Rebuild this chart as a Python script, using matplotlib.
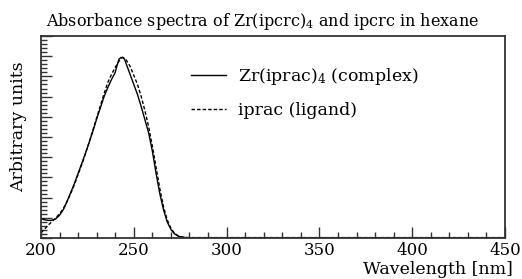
import numpy as np
import matplotlib
matplotlib.use('Agg')
import matplotlib.pyplot as plt
from matplotlib.ticker import MultipleLocator

plt.rcParams['font.family'] = 'DejaVu Serif'
plt.rcParams['mathtext.fontset'] = 'dejavuserif'

# Zr(iprac)4 complex
wl_complex = [200, 202, 204, 205, 206, 208, 210, 212, 214, 216, 218, 220, 222, 224, 226,
              228, 230, 232, 234, 236, 238, 240, 241, 242, 243, 244, 245, 246, 247, 248,
              250, 252, 254, 256, 258, 260, 262, 264, 266, 268, 270, 272, 274, 276, 278,
              280, 300, 350, 400, 450]
abs_complex = [0.096, 0.090, 0.087, 0.087, 0.088, 0.095, 0.113, 0.140, 0.180, 0.225, 0.270,
               0.320, 0.370, 0.420, 0.475, 0.530, 0.590, 0.645, 0.700, 0.745, 0.785, 0.820,
               0.855, 0.885, 0.893, 0.895, 0.885, 0.860, 0.835, 0.810, 0.760, 0.710, 0.650,
               0.585, 0.520, 0.430, 0.320, 0.220, 0.140, 0.080, 0.042, 0.020, 0.009, 0.004,
               0.002, 0.001, 0.001, 0.001, 0.001, 0.001]

# iprac ligand
wl_ligand = [200, 202, 204, 206, 208, 210, 212, 214, 216, 218, 220, 222, 224, 226, 228,
             230, 232, 234, 236, 238, 240, 242, 243, 244, 245, 246, 248, 250, 252, 254,
             256, 258, 260, 262, 264, 266, 268, 270, 272, 274, 276, 278, 280, 300, 350,
             400, 450]
abs_ligand = [0.026, 0.045, 0.065, 0.082, 0.100, 0.120, 0.145, 0.180, 0.220, 0.265, 0.315,
              0.365, 0.420, 0.475, 0.535, 0.595, 0.655, 0.715, 0.770, 0.810, 0.845, 0.875,
              0.888, 0.893, 0.890, 0.880, 0.850, 0.805, 0.760, 0.700, 0.630, 0.550, 0.455,
              0.350, 0.245, 0.155, 0.090, 0.048, 0.022, 0.010, 0.005, 0.003, 0.002, 0.002,
              0.002, 0.002, 0.002]

fig = plt.figure(figsize=(5.22, 2.79), dpi=100)
ax = fig.add_axes([41/522, 41/279, 464/522, 202/279])

ax.plot(wl_complex, abs_complex, color='black', lw=1.0, label='Zr(iprac)$_4$ (complex)')
ax.plot(wl_ligand, abs_ligand, color='black', lw=1.0, linestyle=(0, (2.5, 1.5)),
        label='iprac (ligand)')

ax.set_xlim(200, 450)
ax.set_ylim(0, 1.0)
ax.xaxis.set_major_locator(MultipleLocator(50))
ax.xaxis.set_minor_locator(MultipleLocator(10))
ax.yaxis.set_major_locator(MultipleLocator(0.1))
ax.yaxis.set_minor_locator(MultipleLocator(0.02))
ax.tick_params(which='both', direction='in', top=False, right=False, labelleft=False,
               width=1.0, color='#333333')
ax.tick_params(which='major', length=8, labelsize=12, pad=3)
ax.tick_params(which='minor', length=4)
for s in ax.spines.values():
    s.set_linewidth(1.3)
    s.set_color('#333333')

ax.set_title('Absorbance spectra of Zr(ipcrc)$_4$ and ipcrc in hexane', fontsize=11.5,
             pad=7, x=0.478)
ax.set_ylabel('Arbitrary units', fontsize=12.5)
ax.yaxis.set_label_coords(-0.03, 0.55)
ax.set_xlabel('Wavelength [nm]', fontsize=12.5, ha='right')
ax.xaxis.set_label_coords(1.017, -0.112)

ax.legend(loc='upper left', bbox_to_anchor=(0.29, 0.93), frameon=False, fontsize=12.5,
          handlelength=2.0, handletextpad=0.7, labelspacing=0.9)

fig.savefig('out.png', dpi=100)
